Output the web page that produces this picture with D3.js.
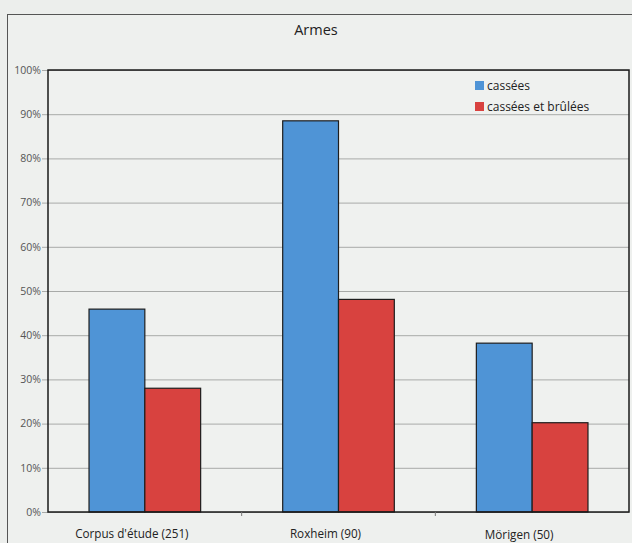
<!DOCTYPE html>
<html>
<head>
<meta charset="utf-8">
<script src="https://cdn.jsdelivr.net/npm/d3@7"></script>
<style>
  html, body { margin: 0; padding: 0; background: #eceeec; }
  svg { display: block; }
  text { font-family: "Open Sans", "Noto Sans", sans-serif; }
</style>
</head>
<body>
<div id="chart"></div>
<script>
// Share of weapons broken / broken and burnt, per assemblage
const categories = ["Corpus d'étude (251)", "Roxheim (90)", "Mörigen (50)"];
const seriesNames = ["cassées", "cassées et brûlées"];
const cassees = [45.9, 88.5, 38.2];
const casseesBrulees = [28.0, 48.1, 20.2];
const yTicks = [0, 10, 20, 30, 40, 50, 60, 70, 80, 90, 100];
const seriesColors = ["#4f94d6", "#d8423f"];

const W = 632, H = 543;
const margin = { top: 70, right: 3, bottom: 31, left: 48 };
const innerW = W - margin.left - margin.right;
const innerH = H - margin.top - margin.bottom;

const svg = d3.select("#chart").append("svg")
  .attr("width", W).attr("height", H);

// outer frame of the figure
svg.append("rect")
  .attr("x", 7.5).attr("y", 14.5)
  .attr("width", W + 10).attr("height", H + 10)
  .attr("fill", "#eef0ee")
  .attr("stroke", "#555").attr("stroke-width", 1);

svg.append("text")
  .attr("x", 316).attr("y", 35)
  .attr("text-anchor", "middle")
  .attr("font-size", 14.5)
  .attr("fill", "#222")
  .text("Armes");

const g = svg.append("g").attr("transform", `translate(${margin.left},${margin.top})`);

const x = d3.scaleBand().domain(categories).range([0, innerW]).padding(0);
const xInner = d3.scaleBand().domain(seriesNames)
  .range([0, x.bandwidth()]).paddingOuter(0.735).paddingInner(0);
const y = d3.scaleLinear().domain([0, 100]).range([innerH, 0]);

// plot background
g.append("rect")
  .attr("width", innerW).attr("height", innerH)
  .attr("fill", "#eff1ef");

// gridlines with short outer ticks
const yAxis = d3.axisLeft(y)
  .tickValues(yTicks)
  .tickFormat(d => d + "%")
  .tickSize(-innerW - 6)
  .tickPadding(3);
const ya = g.append("g").call(yAxis);
ya.select(".domain").remove();
ya.selectAll(".tick line")
  .attr("x1", -6)
  .attr("x2", innerW)
  .attr("stroke", "#a8aaa8")
  .attr("stroke-width", 1);
ya.selectAll(".tick text")
  .attr("x", -7)
  .attr("font-size", 10.5)
  .attr("fill", "#555")
  .attr("font-family", "'Open Sans', sans-serif");

// bars
const rows = categories.map((c, i) => ({ cat: c, vals: [cassees[i], casseesBrulees[i]] }));
const groups = g.selectAll(".grp").data(rows).join("g")
  .attr("class", "grp")
  .attr("transform", d => `translate(${x(d.cat)},0)`);
groups.selectAll("rect")
  .data(d => d.vals.map((v, k) => ({ name: seriesNames[k], v, k })))
  .join("rect")
  .attr("x", d => xInner(d.name))
  .attr("width", xInner.bandwidth())
  .attr("y", d => y(d.v))
  .attr("height", d => y(0) - y(d.v))
  .attr("fill", d => seriesColors[d.k])
  .attr("stroke", "#1e1e1e")
  .attr("stroke-width", 1.2);

// plot frame
g.append("rect")
  .attr("width", innerW).attr("height", innerH)
  .attr("fill", "none")
  .attr("stroke", "#1a1a1a").attr("stroke-width", 1.5);

// x axis: category ticks and labels
const xa = g.append("g").attr("transform", `translate(0,${innerH})`);
xa.selectAll("line").data(categories.slice(1)).join("line")
  .attr("x1", d => x(d)).attr("x2", d => x(d))
  .attr("y1", 0).attr("y2", 4)
  .attr("stroke", "#777");
xa.selectAll("text").data(categories).join("text")
  .attr("x", d => x(d) + x.bandwidth() / 2 - 13)
  .attr("y", (d, i) => i === 2 ? 27 : 26)
  .attr("text-anchor", "middle")
  .attr("font-size", 11.7)
  .attr("fill", "#222")
  .text(d => d);

// legend
const legend = svg.append("g").attr("transform", "translate(475,81)");
const li = legend.selectAll("g").data(seriesNames).join("g")
  .attr("transform", (d, i) => `translate(0,${i * 21})`);
li.append("rect")
  .attr("width", 9).attr("height", 9)
  .attr("fill", (d, i) => seriesColors[i]);
li.append("text")
  .attr("x", 12).attr("y", 8.5)
  .attr("font-size", 12)
  .attr("fill", "#222")
  .text(d => d);
</script>
</body>
</html>
